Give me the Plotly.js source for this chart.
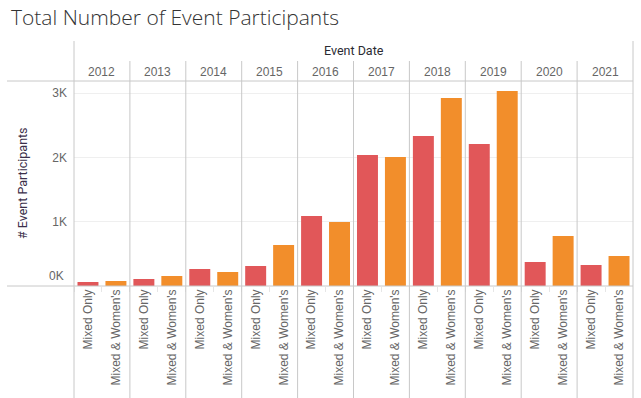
<!DOCTYPE html>
<html>
<head>
<meta charset="utf-8">
<script src="https://cdn.plot.ly/plotly-3.0.1.min.js"></script>
<style>html,body{margin:0;padding:0;background:#fff;}#chart{width:641px;height:398px;}</style>
</head>
<body>
<div id="chart"></div>
<script>
const years = ['2012','2013','2014','2015','2016','2017','2018','2019','2020','2021'];
const categories = ['Mixed Only', "Mixed & Women's"];
const mixedOnly = [62, 109, 264, 311, 1089, 2037, 2333, 2208, 373, 327];
const mixedWomens = [78, 155, 218, 638, 995, 2006, 2924, 3033, 778, 467];
const yTickVals = [1000, 2000, 3000];
const yTickText = ['1K', '2K', '3K'];

const RED = '#E15759', ORANGE = '#F28E2B';
const LINE = '#c8c8c8';
const LABEL = '#666666';
const n = years.length;
const W = 641, H = 398, ML = 74, MR = 8, MT = 81, MB = 112;
const PW = W - ML - MR, PH = H - MT - MB;
const px2x = p => (p - ML) / PW;
const py2y = p => (H - MB - p) / PH;

const traces = [];
const layout = {
  width: W, height: H,
  margin: {l: ML, r: MR, t: MT, b: MB, pad: 0},
  paper_bgcolor: '#fff', plot_bgcolor: '#fff',
  showlegend: false,
  bargap: 0.25,
  font: {family: 'Liberation Sans, Arial, sans-serif', size: 12, color: LABEL},
  title: {
    text: 'Total Number of Event Participants',
    x: 11 / W, xref: 'container', xanchor: 'left',
    y: 1 - 18 / H, yref: 'container', yanchor: 'middle',
    font: {family: 'Open Sans, sans-serif', size: 21, weight: 300, color: '#333333'}
  },
  yaxis: {
    range: [0, 3190], tickvals: yTickVals, ticktext: yTickText,
    showgrid: true, gridcolor: '#efefef', gridwidth: 1,
    zeroline: false, showline: false, ticks: '', ticklabelstandoff: 6,
    tickfont: {family: 'Liberation Sans, Arial, sans-serif', size: 12, color: LABEL},
    anchor: 'x', fixedrange: true
  },
  shapes: [], annotations: []
};

for (let i = 0; i < n; i++) {
  const ax = i === 0 ? 'x' : 'x' + (i + 1);
  const axKey = i === 0 ? 'xaxis' : 'xaxis' + (i + 1);
  traces.push({
    type: 'bar', x: categories, y: [mixedOnly[i], mixedWomens[i]],
    xaxis: ax, yaxis: 'y',
    marker: {color: [RED, ORANGE], line: {width: 0}},
    hoverinfo: 'x+y'
  });
  layout[axKey] = {
    domain: [i / n, (i + 1) / n], anchor: 'y',
    type: 'category', categoryorder: 'array', categoryarray: categories,
    range: [-0.5, 1.5], tickangle: -90,
    showgrid: false, zeroline: false, showline: false,
    ticks: 'outside', tickson: 'boundaries', ticklen: 5, tickcolor: '#e6e6e6', tickwidth: 1,
    tickfont: {family: 'Liberation Sans, Arial, sans-serif', size: 12, color: LABEL},
    fixedrange: true
  };
  layout.annotations.push({
    xref: 'paper', yref: 'paper', x: (i + 0.5) / n, y: py2y(72),
    text: years[i], showarrow: false, xanchor: 'center', yanchor: 'middle',
    font: {family: 'Liberation Sans, Arial, sans-serif', size: 12, color: LABEL}
  });
  if (i > 0) {
    layout.shapes.push({type: 'line', xref: 'paper', yref: 'paper',
      x0: i / n, x1: i / n, y0: py2y(61), y1: py2y(H),
      line: {color: LINE, width: 1}});
  }
}

// frame lines
layout.shapes.push(
  {type: 'line', xref: 'paper', yref: 'paper', x0: 0, x1: 0, y0: py2y(41), y1: py2y(H), line: {color: LINE, width: 1}},
  {type: 'line', xref: 'paper', yref: 'paper', x0: 1, x1: 1, y0: py2y(41), y1: py2y(H), line: {color: LINE, width: 1}},
  {type: 'line', xref: 'paper', yref: 'paper', x0: px2x(7), x1: 1, y0: 1, y1: 1, line: {color: LINE, width: 1}},
  {type: 'line', xref: 'paper', yref: 'paper', x0: px2x(7), x1: 1, y0: 0, y1: 0, line: {color: LINE, width: 1}}
);

layout.annotations.push(
  {xref: 'paper', yref: 'paper', x: 0.5, y: py2y(50), text: 'Event Date', showarrow: false,
   xanchor: 'center', yanchor: 'middle',
   font: {family: 'Roboto, sans-serif', size: 12.5, weight: 400, color: '#2b2b33'}},
  {xref: 'paper', yref: 'paper', x: px2x(22), y: py2y(183), text: '# Event Participants', showarrow: false,
   textangle: -90, xanchor: 'center', yanchor: 'middle',
   font: {family: 'Roboto, sans-serif', size: 12.5, weight: 400, color: '#3b2f4a'}},
  {xref: 'paper', yref: 'y', x: px2x(66), y: 0, text: '0K', showarrow: false,
   xanchor: 'right', yanchor: 'bottom', yshift: 1,
   font: {family: 'Liberation Sans, Arial, sans-serif', size: 12, color: LABEL}}
);

Plotly.newPlot('chart', traces, layout, {displayModeBar: false, staticPlot: true});
</script>
</body>
</html>
